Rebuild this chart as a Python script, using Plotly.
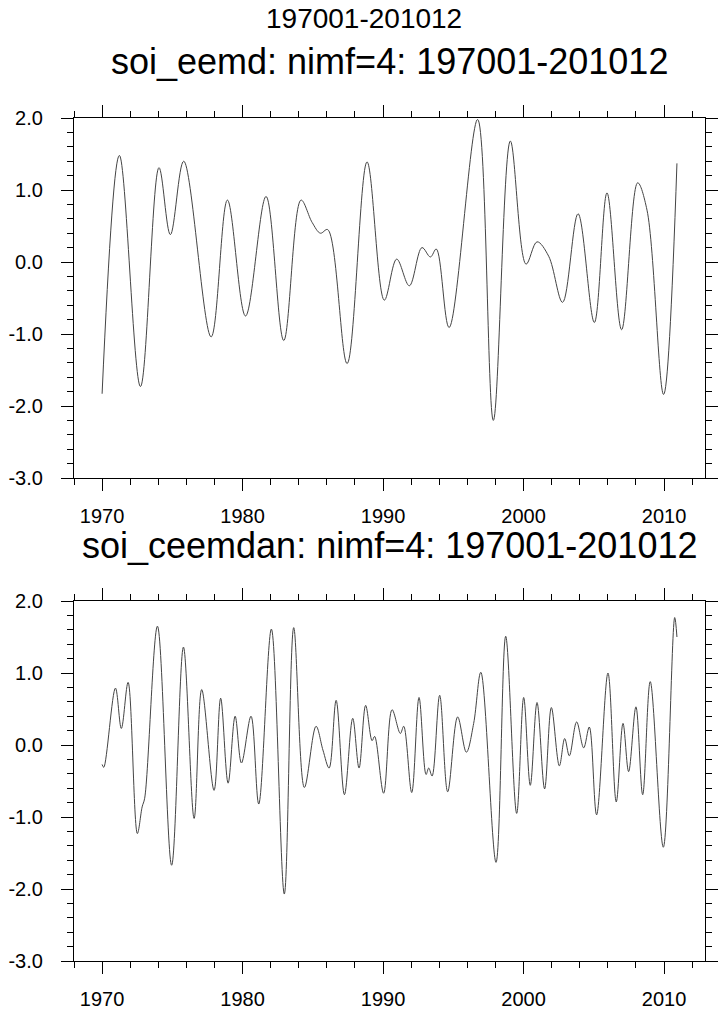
import plotly.graph_objects as go

# ---------------- data ----------------
eemd_year = [1970.00, 1971.23, 1972.73, 1974.05, 1974.86, 1975.81, 1977.76, 1978.92,
             1980.21, 1981.67, 1982.93, 1984.16, 1984.95, 1985.54, 1986.06, 1987.44,
             1988.86, 1990.09, 1990.97, 1991.87, 1992.77, 1993.37, 1993.79, 1994.70,
             1996.73, 1997.85, 1999.06, 2000.18, 2000.96, 2001.79, 2002.78, 2003.88,
             2005.04, 2005.94, 2006.98, 2008.12, 2008.79, 2009.97, 2010.92]
eemd_value = [-1.83, 1.48, -1.73, 1.31, 0.38, 1.40, -1.04, 0.86,
              -0.75, 0.91, -1.09, 0.86, 0.55, 0.40, 0.45, -1.41,
              1.39, -0.53, 0.04, -0.33, 0.20, 0.07, 0.18, -0.91,
              1.98, -2.20, 1.68, -0.03, 0.28, 0.08, -0.56, 0.67,
              -0.84, 0.96, -0.94, 1.10, 0.72, -1.84, 1.37]

ceemdan_year = [1970.00, 1970.12, 1970.95, 1971.37, 1971.85, 1972.51, 1972.85, 1973.03,
                1973.94, 1974.95, 1975.79, 1976.55, 1977.09, 1977.97, 1978.44, 1978.97,
                1979.47, 1979.92, 1980.60, 1981.15, 1982.05, 1982.97, 1983.64, 1984.40,
                1985.23, 1985.72, 1986.16, 1986.66, 1987.25, 1987.84, 1988.29, 1988.76,
                1989.22, 1989.40, 1990.04, 1990.64, 1991.23, 1991.47, 1992.04, 1992.56,
                1993.06, 1993.25, 1993.49, 1994.03, 1994.60, 1995.31, 1995.93, 1996.45,
                1996.96, 1998.04, 1998.73, 1999.51, 2000.01, 2000.48, 2000.96, 2001.50,
                2001.98, 2002.55, 2002.93, 2003.26, 2003.78, 2004.28, 2004.68, 2005.20,
                2006.01, 2006.60, 2007.08, 2007.48, 2008.00, 2008.48, 2009.02, 2009.95,
                2010.76, 2010.92]
ceemdan_value = [-0.27, -0.31, 0.79, 0.23, 0.87, -1.23, -0.86, -0.74,
                 1.65, -1.67, 1.36, -1.02, 0.77, -0.63, 0.65, -0.53,
                 0.40, -0.25, 0.40, -0.82, 1.61, -2.07, 1.63, -0.59,
                 0.26, -0.07, -0.32, 0.62, -0.69, 0.37, -0.32, 0.55,
                 0.06, 0.12, -0.67, 0.49, 0.16, 0.26, -0.66, 0.66,
                 -0.41, -0.32, -0.43, 0.69, -0.65, 0.39, -0.10, 0.30,
                 1.01, -1.63, 1.51, -0.95, 0.66, -0.56, 0.59, -0.61,
                 0.52, -0.29, 0.09, -0.15, 0.32, -0.04, 0.25, -0.97,
                 1.00, -0.79, 0.30, -0.37, 0.53, -0.69, 0.88, -1.42,
                 1.77, 1.50]

x_tickvals = [1970, 1980, 1990, 2000, 2010]
x_ticktext = ["1970", "1980", "1990", "2000", "2010"]
y_tickvals = [-3, -2, -1, 0, 1, 2]
y_ticktext = ["-3.0", "-2.0", "-1.0", "0.0", "1.0", "2.0"]

page_title = "197001-201012"
panel_titles = ["soi_eemd: nimf=4: 197001-201012",
                "soi_ceemdan: nimf=4: 197001-201012"]

# ---------------- layout helpers ----------------
PAGE_W, PAGE_H = 727, 1016
BODY = 8                      # default page margin around the plot div
W, H = PAGE_W - BODY, PAGE_H - BODY
FONT = "Liberation Sans, Arial, Helvetica, sans-serif"

def px_x(p):                  # page pixel -> paper fraction
    return (p - BODY) / W

def px_y(p):
    return 1 - (p - BODY) / H

left, right = 74, 705
panels = [(118, 478), (601, 961)]

fig = go.Figure()
fig.add_trace(go.Scatter(x=eemd_year, y=eemd_value, mode="lines",
                         line=dict(color="#444444", width=1, shape="spline", smoothing=1.0),
                         xaxis="x", yaxis="y", showlegend=False, hoverinfo="skip"))
fig.add_trace(go.Scatter(x=ceemdan_year, y=ceemdan_value, mode="lines",
                         line=dict(color="#444444", width=1, shape="spline", smoothing=1.0),
                         xaxis="x2", yaxis="y2", showlegend=False, hoverinfo="skip"))

def xaxis_cfg(top, bottom, anchor):
    return dict(domain=[px_x(left), px_x(right)], anchor=anchor, automargin=False,
                range=[1968, 2012.917], tickmode="array",
                tickvals=x_tickvals, ticktext=x_ticktext,
                ticks="outside", ticklen=12, tickwidth=1.2, tickcolor="black",
                showline=True, linecolor="black", linewidth=1.2, mirror="ticks",
                showgrid=False, zeroline=False,
                tickfont=dict(family=FONT, size=20, color="black"),
                ticklabelstandoff=8,
                minor=dict(dtick=2, tick0=1968, ticks="outside", ticklen=6,
                           tickwidth=1, tickcolor="black", showgrid=False))

def yaxis_cfg(top, bottom, anchor):
    return dict(domain=[px_y(bottom), px_y(top)], anchor=anchor, automargin=False,
                range=[-3, 2], tickmode="array",
                tickvals=y_tickvals, ticktext=y_ticktext,
                ticks="outside", ticklen=12, tickwidth=1.2, tickcolor="black",
                showline=True, linecolor="black", linewidth=1.2, mirror="ticks",
                showgrid=False, zeroline=False,
                tickfont=dict(family=FONT, size=20, color="black"),
                ticklabelstandoff=14,
                minor=dict(dtick=0.2, tick0=-3, ticks="outside", ticklen=6,
                           tickwidth=1, tickcolor="black", showgrid=False))

annotations = [
    dict(text=page_title, x=px_x(PAGE_W / 2), y=px_y(19), xref="paper", yref="paper",
         xanchor="center", yanchor="middle", showarrow=False,
         font=dict(family=FONT, size=28, color="black")),
    dict(text=panel_titles[0], x=px_x((left + right) / 2), y=px_y(61),
         xref="paper", yref="paper", xanchor="center", yanchor="middle",
         showarrow=False, font=dict(family=FONT, size=36, color="black")),
    dict(text=panel_titles[1], x=px_x((left + right) / 2), y=px_y(545),
         xref="paper", yref="paper", xanchor="center", yanchor="middle",
         showarrow=False, font=dict(family=FONT, size=36, color="black")),
]

fig.update_layout(
    width=W, height=H,
    margin=dict(l=0, r=0, t=0, b=0, autoexpand=False),
    paper_bgcolor="white", plot_bgcolor="white",
    font=dict(family=FONT, color="black"),
    xaxis=xaxis_cfg(*panels[0], "y"),
    yaxis=yaxis_cfg(*panels[0], "x"),
    xaxis2=xaxis_cfg(*panels[1], "y2"),
    yaxis2=yaxis_cfg(*panels[1], "x2"),
    annotations=annotations,
    showlegend=False,
)

fig.write_html("out.html")
